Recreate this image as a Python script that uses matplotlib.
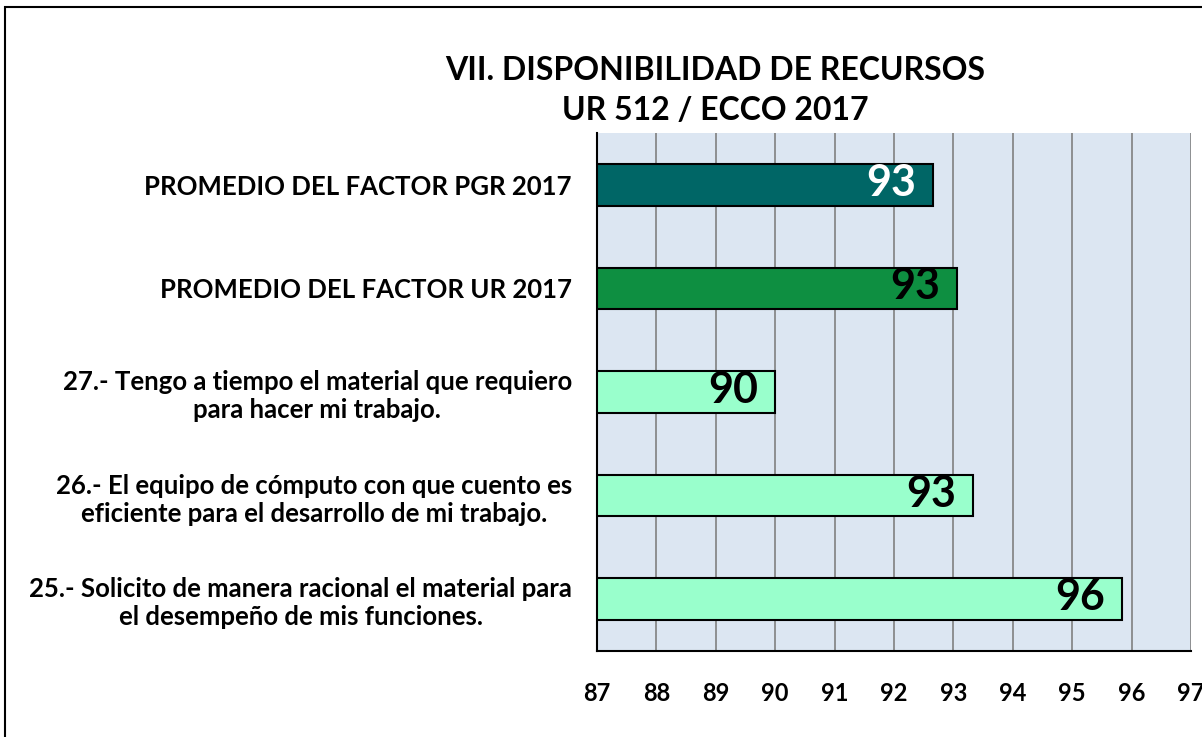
import matplotlib.pyplot as plt
from matplotlib.patches import Rectangle

# data, bottom to top as drawn
labels = [
    "25.- Solicito de manera racional el material para\nel desempeño de mis funciones.",
    "26.- El equipo de cómputo con que cuento es\neficiente para el desarrollo de mi trabajo.",
    "27.- Tengo a tiempo el material que requiero\npara hacer mi trabajo.",
    "PROMEDIO DEL FACTOR UR 2017",
    "PROMEDIO DEL FACTOR PGR 2017",
]
values = [95.84, 93.33, 90.0, 93.06, 92.66]
colors = ["#99FFCC", "#99FFCC", "#99FFCC", "#0E8F41", "#006666"]
text_colors = ["black", "black", "black", "black", "white"]
ticks = list(range(87, 98))

plt.rcParams["font.family"] = ["Lato", "DejaVu Sans"]

fig = plt.figure(figsize=(12.02, 7.37), dpi=100)
ax = fig.add_axes([597 / 1202, 1 - 651 / 737, (1191 - 597) / 1202, (651 - 133) / 737])
ax.set_facecolor("#DCE6F2")

ypos = range(len(values))
ax.barh(ypos, [v - 87 for v in values], left=87, height=0.4,
        color=colors, edgecolor="black", linewidth=1.5, zorder=3)

for y, v, tc in zip(ypos, values, text_colors):
    ax.text(v - 0.28, y + 0.02, f"{v:.0f}", ha="right", va="center", fontsize=31,
            fontweight="bold", color=tc, zorder=4)

ax.set_xlim(87, 97)
ax.set_ylim(-0.5, len(values) - 0.5)
ax.set_xticks(ticks)
ax.set_xticklabels([str(t) for t in ticks], fontsize=17, fontweight="bold")
ax.set_yticks(list(ypos))
ax.set_yticklabels(labels, fontsize=18.5, fontweight="bold",
                   multialignment="center", linespacing=1.2)
ax.tick_params(axis="both", length=0)
ax.tick_params(axis="x", pad=22)
ax.tick_params(axis="y", pad=18)
ax.grid(axis="x", color="#808080", linewidth=1.2, zorder=0)
ax.set_axisbelow(True)

for side in ["top", "right"]:
    ax.spines[side].set_visible(False)
ax.spines["left"].set_linewidth(1.5)
ax.spines["bottom"].set_linewidth(1.5)

fig.text(715 / 1202, 1 - 70 / 737, "VII. DISPONIBILIDAD DE RECURSOS",
         ha="center", va="center", fontsize=23, fontweight="bold")
fig.text(715 / 1202, 1 - 111 / 737, "UR 512 / ECCO 2017",
         ha="center", va="center", fontsize=23, fontweight="bold")

# chart area border
fig.add_artist(Rectangle((5 / 1202, -0.1), 1.2, 1 - 7 / 737 + 0.1,
                         transform=fig.transFigure, fill=False,
                         edgecolor="black", linewidth=1.5))

fig.savefig("out.png", dpi=100)
